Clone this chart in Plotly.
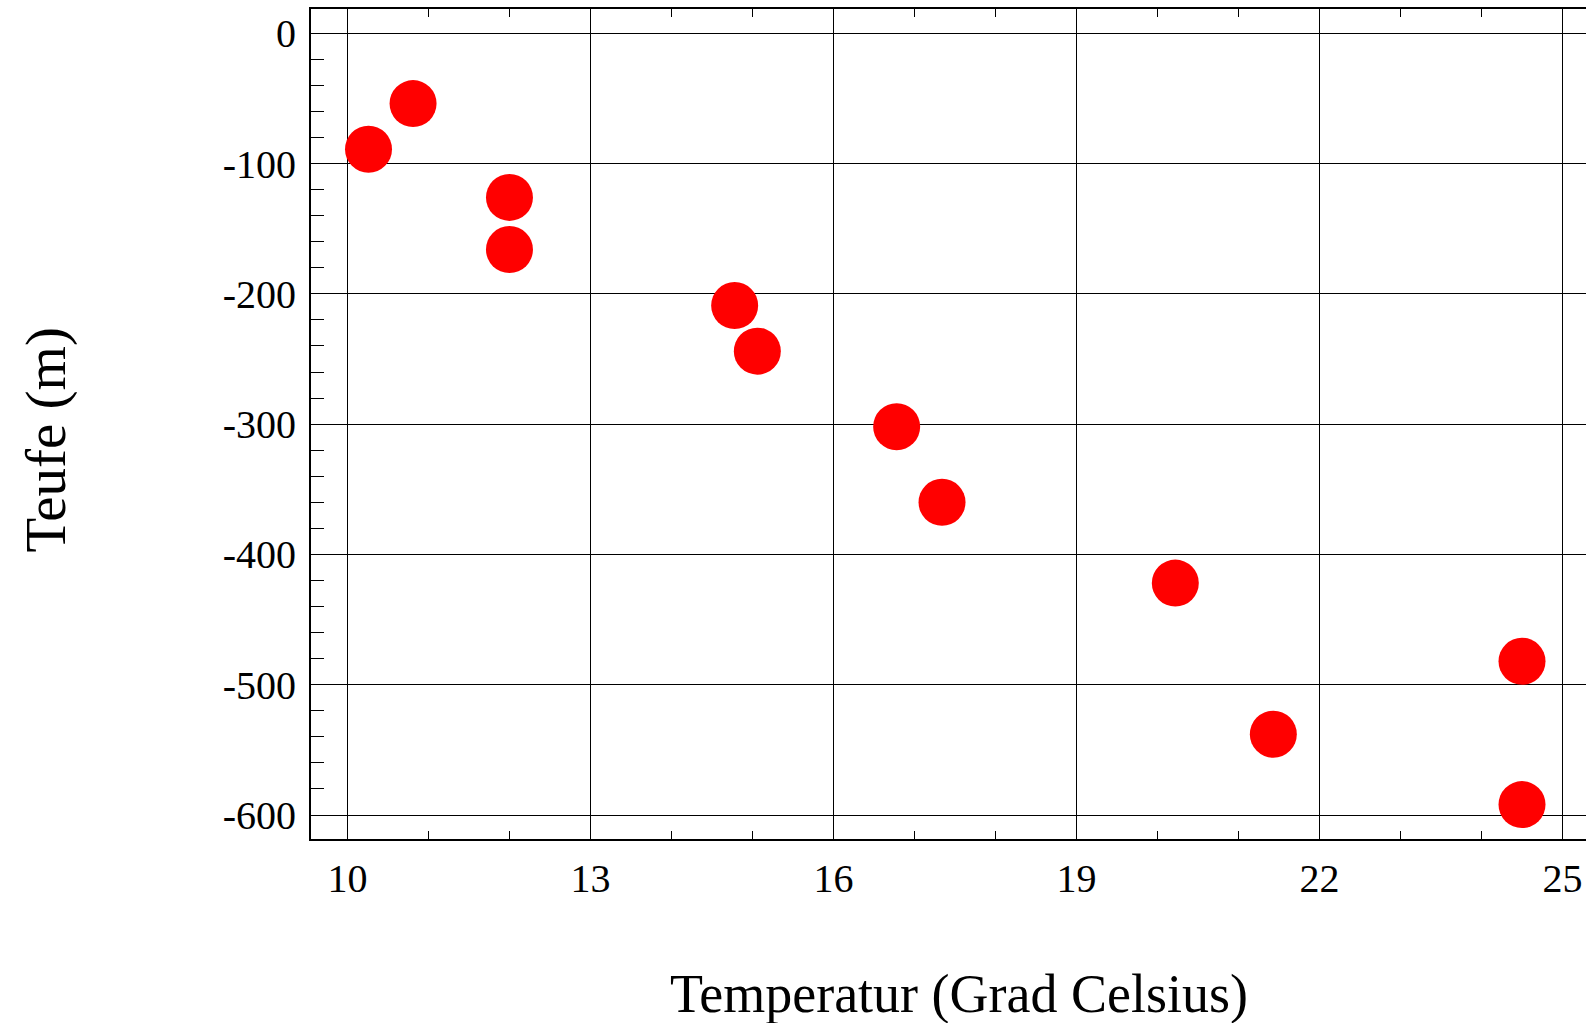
import plotly.graph_objects as go

# Data
temperatur = [10.26, 10.81, 12.00, 12.00, 14.78, 15.06, 16.78, 17.34, 20.22, 21.43, 24.50, 24.50]
teufe = [-89, -54, -126, -166, -209, -244, -302, -360, -422, -538, -482, -592]

x_ticks = [10, 13, 16, 19, 22, 25]
y_ticks = [0, -100, -200, -300, -400, -500, -600]

x_title = "Temperatur (Grad Celsius)"
y_title = "Teufe (m)"

font_family = "Liberation Serif, Times New Roman, serif"

fig = go.Figure()
fig.add_trace(go.Scatter(
    x=temperatur, y=teufe, mode="markers",
    marker=dict(color="#FF0000", size=47, line=dict(width=0)),
    showlegend=False,
))

fig.update_layout(
    width=1586, height=1023,
    margin=dict(l=311, r=0, t=9, b=184, autoexpand=False),
    paper_bgcolor="white", plot_bgcolor="white",
    font=dict(family=font_family, color="black"),
    annotations=[
        dict(text=x_title, xref="paper", yref="paper", x=0.5082, y=-0.1867,
             xanchor="center", yanchor="middle", showarrow=False,
             font=dict(size=54, family=font_family, color="black")),
        dict(text=y_title, xref="paper", yref="paper", x=-0.2082, y=0.4807,
             xanchor="center", yanchor="middle", showarrow=False, textangle=-90,
             font=dict(size=57, family=font_family, color="black")),
    ],
)

fig.update_xaxes(
    range=[9.55, 25.29],
    tickvals=x_ticks, ticktext=[str(v) for v in x_ticks],
    tickfont=dict(size=40, family=font_family),
    ticklabelstandoff=3,
    showgrid=True, gridcolor="black", gridwidth=1,
    showline=True, linecolor="black", linewidth=2, mirror="ticks",
    ticks="inside", ticklen=0, tickcolor="black",
    minor=dict(dtick=1, ticks="inside", ticklen=8, tickcolor="black", showgrid=False),
    zeroline=False,
)
fig.update_yaxes(
    range=[-618.4, 18.6],
    tickvals=y_ticks, ticktext=[str(v) for v in y_ticks],
    tickfont=dict(size=40, family=font_family),
    ticklabelstandoff=5,
    showgrid=True, gridcolor="black", gridwidth=1,
    showline=True, linecolor="black", linewidth=2, mirror=False,
    ticks="outside", ticklen=0, tickcolor="black",
    minor=dict(dtick=20, ticks="inside", ticklen=13, tickcolor="black", showgrid=False),
    zeroline=False,
)

fig.write_html(
    "out.html",
    config={"displayModeBar": False},
    post_script="document.body.style.margin='0';document.body.style.overflow='hidden';",
)
